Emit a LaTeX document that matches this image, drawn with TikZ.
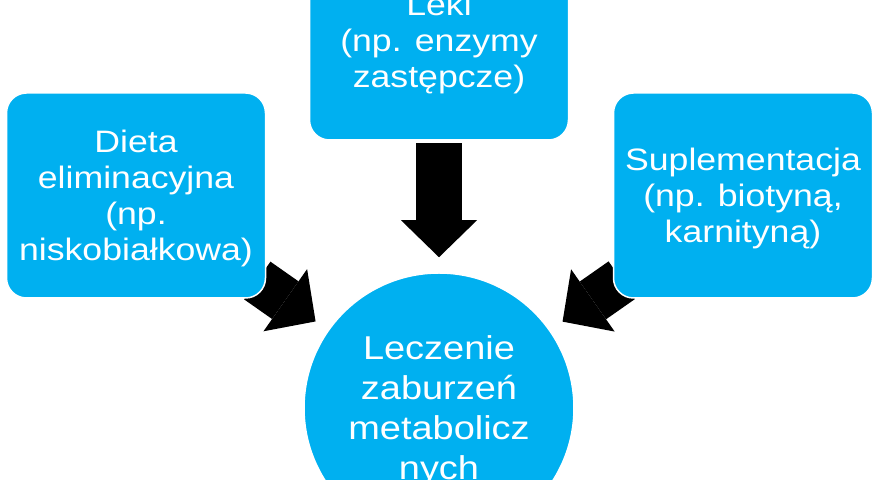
\documentclass[tikz,border=0pt]{standalone}
\usepackage{fontspec}
\setmainfont[FakeStretch=1.15]{Liberation Sans}
\usetikzlibrary{arrows.meta,backgrounds}
\definecolor{smartblue}{RGB}{0,176,240}
\tikzset{
  box/.style={rectangle, rounded corners=10pt, fill=smartblue, draw=white,
    line width=0.75pt, text=white, align=center, inner sep=0pt,
    minimum width=129.5pt, minimum height=102.5pt, text depth=0pt,
    font=\fontsize{15.5}{18}\selectfont},
  hub/.style={circle, fill=smartblue, draw=white, line width=0.75pt,
    text=white, align=center, inner sep=0pt, minimum size=135pt,
    text depth=0pt, font=\fontsize{16.5}{20}\selectfont},
  bigarrow/.style={draw=black, line width=23pt, shorten >=7.5pt,
    -{Triangle[length=18.5pt,width=38pt,line width=0pt]}}
}
\begin{document}
\begin{tikzpicture}[x=0.5pt,y=-0.5pt]
  \useasboundingbox (0,0) rectangle (880,480);
  \clip (0,0) rectangle (880,480);
  % boxes
  \node[box, minimum height=100pt] (leki) at (439,40) {Leki\\(np. enzymy\\zastępcze)};
  \node[box] (dieta) at (136,195.5) {Dieta\\eliminacyjna\\(np.\\niskobiałkowa)};
  \node[box] (suple) at (743,195.5) {Suplementacja\\(np. biotyną,\\karnityną)};
  \node[hub] (leczenie) at (439,408) {Leczenie\\zaburzeń\\metabolicz\\nych};
  % arrows behind the boxes
  \begin{scope}[on background layer]
    \draw[bigarrow, shorten <=1.25pt] (leki) -- (leczenie);
    \draw[bigarrow, shorten <=-5.5pt] (dieta) -- (leczenie);
    \draw[bigarrow, shorten <=-5.5pt] (suple) -- (leczenie);
  \end{scope}
\end{tikzpicture}
\end{document}
